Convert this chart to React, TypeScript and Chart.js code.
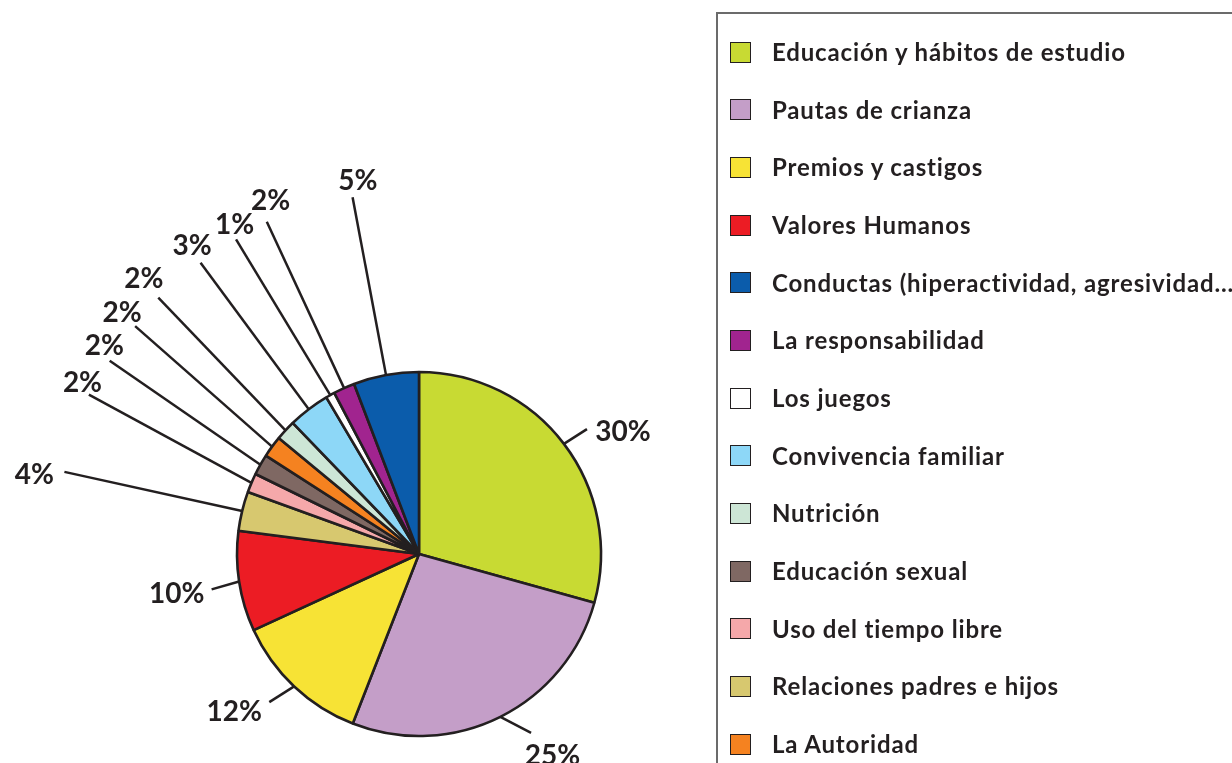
import React, { useEffect, useRef } from 'react';
import { Chart, registerables } from 'chart.js';

Chart.register(...registerables);

// ---- Data (pie order, clockwise from 12 o'clock) ----
const categories: string[] = [
  'Educación y hábitos de estudio',
  'Pautas de crianza',
  'Premios y castigos',
  'Valores Humanos',
  'Relaciones padres e hijos',
  'Uso del tiempo libre',
  'Educación sexual',
  'La Autoridad',
  'Nutrición',
  'Convivencia familiar',
  'Los juegos',
  'La responsabilidad',
  'Conductas (hiperactividad, agresividad...)',
];

// slice sizes as measured on the picture (percent)
const values: number[] = [29.3, 26.6, 12.2, 8.9, 3.5, 1.7, 1.85, 1.9, 1.8, 3.7, 0.8, 1.9, 5.8];

// label texts printed next to each slice
const percentLabels: string[] = ['30%', '25%', '12%', '10%', '4%', '2%', '2%', '2%', '2%', '3%', '1%', '2%', '5%'];

const sliceColors: string[] = [
  '#c8da33', '#c49ec8', '#f7e335', '#ec1c24', '#d7c86f', '#f5a8aa', '#7f6863',
  '#f58220', '#cde6d6', '#8dd7f7', '#ffffff', '#a1248f', '#0b5cab',
];

// order in which the legend lists the categories (indices into categories)
const legendOrder: number[] = [0, 1, 2, 3, 12, 11, 10, 9, 8, 6, 5, 4, 7];

// ---- Layout of leader lines and labels (annotation styling) ----
// shift: end-point angle shift (deg, clockwise), reach: end radius / pie radius,
// dx, dy: label centre relative to the line end (px)
const leaderLayout = [
  { shift: 0.6, reach: 1.15, dx: 36, dy: 1.5 },
  { shift: -5.5, reach: 1.16, dx: 21.5, dy: 22 },
  { shift: 2.0, reach: 1.157, dx: -35, dy: 9 },
  { shift: -1.0, reach: 1.156, dx: -35, dy: 4 },
  { shift: -0.6, reach: 2.0, dx: -30, dy: 2 },
  { shift: 2.75, reach: 2.014, dx: -6.4, dy: -13.1 },
  { shift: 2.6, reach: 2.004, dx: -5.3, dy: -15.3 },
  { shift: 2.6, reach: 2.0, dx: -13, dy: -14.5 },
  { shift: 1.7, reach: 2.009, dx: -14.4, dy: -19.5 },
  { shift: 0.4, reach: 2.0, dx: -8.5, dy: -17.8 },
  { shift: -1.0, reach: 2.0, dx: -1.5, dy: -15.5 },
  { shift: -0.3, reach: 2.008, dx: 3.8, dy: -21.3 },
  { shift: -0.1, reach: 1.994, dx: 5.2, dy: -17.3 },
];

const INK = '#231f20';
const FONT = 'Lato, "Open Sans", "DejaVu Sans", sans-serif';

const leaderPlugin = {
  id: 'leaderLabels',
  afterDatasetsDraw(chart: any) {
    const ctx = chart.ctx as CanvasRenderingContext2D;
    const meta = chart.getDatasetMeta(0);
    ctx.save();
    meta.data.forEach((arc: any, i: number) => {
      const p = arc.getProps(['x', 'y', 'startAngle', 'endAngle', 'outerRadius'], true);
      const mid = (p.startAngle + p.endAngle) / 2;
      const L = leaderLayout[i];
      const a2 = mid + (L.shift * Math.PI) / 180;
      const x1 = p.x + Math.cos(mid) * p.outerRadius;
      const y1 = p.y + Math.sin(mid) * p.outerRadius;
      const r2 = p.outerRadius * L.reach;
      const x2 = p.x + Math.cos(a2) * r2;
      const y2 = p.y + Math.sin(a2) * r2;
      ctx.beginPath();
      ctx.moveTo(x1, y1);
      ctx.lineTo(x2, y2);
      ctx.lineWidth = 2.5;
      ctx.strokeStyle = INK;
      ctx.stroke();
      ctx.font = `bold 28px ${FONT}`;
      ctx.textAlign = 'center';
      ctx.textBaseline = 'alphabetic';
      ctx.fillStyle = INK;
      ctx.fillText(percentLabels[i], x2 + L.dx, y2 + L.dy + 10);
    });
    ctx.restore();
  },
};

export default function App() {
  const canvasRef = useRef<HTMLCanvasElement | null>(null);

  useEffect(() => {
    if (!canvasRef.current) return;
    const chart = new Chart(canvasRef.current, {
      type: 'pie',
      data: {
        labels: categories,
        datasets: [
          {
            data: values,
            backgroundColor: sliceColors,
            borderColor: INK,
            borderWidth: 2.6,
          },
        ],
      },
      options: {
        responsive: false,
        animation: false,
        radius: 182,
        layout: { padding: { left: 0, right: 394, top: 345, bottom: 0 } },
        plugins: {
          legend: { display: false },
          tooltip: { enabled: false },
        },
      } as any,
      plugins: [leaderPlugin],
    });
    return () => chart.destroy();
  }, []);

  const rowStep = 57.67;
  const firstCenter = 52;

  return (
    <div
      style={{
        position: 'fixed',
        left: 0,
        top: 0,
        width: 1232,
        height: 763,
        overflow: 'hidden',
        background: '#ffffff',
        fontFamily: FONT,
      }}
    >
      <canvas
        ref={canvasRef}
        width={1232}
        height={763}
        style={{ position: 'absolute', left: 0, top: 0, display: 'block' }}
      />
      <div
        style={{
          position: 'absolute',
          left: 716,
          top: 12,
          width: 600,
          height: 800,
          border: '2px solid #6b6b6b',
          boxSizing: 'border-box',
        }}
      />
      {legendOrder.map((idx, i) => {
        const cy = firstCenter + i * rowStep;
        return (
          <div
            key={idx}
            style={{
              position: 'absolute',
              left: 730,
              top: cy - 15,
              height: 30,
              display: 'flex',
              alignItems: 'center',
              whiteSpace: 'nowrap',
            }}
          >
            <div
              style={{
                width: 21,
                height: 21,
                boxSizing: 'border-box',
                border: `1.2px solid ${INK}`,
                background: sliceColors[idx],
                flex: '0 0 auto',
              }}
            />
            <span
              style={{
                marginLeft: 21,
                fontSize: 24,
                fontWeight: 700,
                letterSpacing: '0.85px',
                color: INK,
                lineHeight: '30px',
              }}
            >
              {categories[idx]}
            </span>
          </div>
        );
      })}
    </div>
  );
}
